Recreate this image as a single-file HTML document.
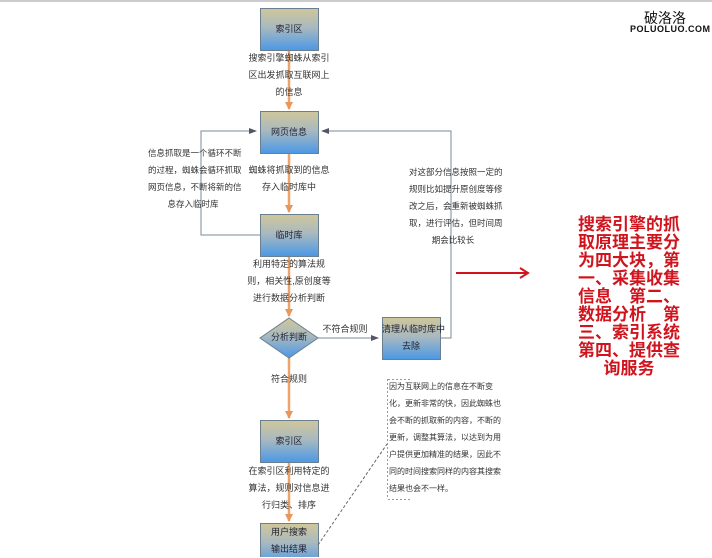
<!DOCTYPE html>
<html><head><meta charset="utf-8"><style>
html,body{margin:0;padding:0;background:#fff;}
body{width:712px;height:557px;overflow:hidden;position:relative;font-family:"Liberation Sans","Noto Sans CJK SC",sans-serif;}
.t{position:absolute;font-size:9px;color:#333;line-height:17px;text-align:center;white-space:nowrap;}
</style></head><body>
<div style="position:absolute;left:0;top:0;width:712px;height:2px;background:#ccc"></div>
<svg width="712" height="557" style="position:absolute;left:0;top:0">
<defs>
<linearGradient id="g" x1="0" y1="0" x2="0" y2="1">
<stop offset="0" stop-color="#cfc79a"/><stop offset="0.45" stop-color="#a9b9bf"/><stop offset="1" stop-color="#4b98e6"/>
</linearGradient>
<marker id="ao" markerWidth="8" markerHeight="8" refX="7" refY="4" orient="auto" markerUnits="userSpaceOnUse"><path d="M0,0 L8,4 L0,8z" fill="#e8965a"/></marker>
<marker id="ag" markerWidth="8" markerHeight="6" refX="7" refY="3" orient="auto" markerUnits="userSpaceOnUse"><path d="M0,0 L8,3 L0,6z" fill="#556"/></marker>
</defs>
<g stroke="#eda36a" stroke-width="2.5" fill="none">
<line x1="289" y1="50" x2="289" y2="109" marker-end="url(#ao)"/>
<line x1="289" y1="153" x2="289" y2="212" marker-end="url(#ao)"/>
<line x1="289" y1="256" x2="289" y2="316" marker-end="url(#ao)"/>
<line x1="289" y1="358" x2="289" y2="418" marker-end="url(#ao)"/>
<line x1="289" y1="462" x2="289" y2="521" marker-end="url(#ao)"/>
</g>
<g stroke="#7a8a99" stroke-width="1" fill="none">
<polyline points="260,235 201,235 201,131 256,131" marker-end="url(#ag)"/>
<polyline points="440,338 451,338 451,131 322,131" marker-end="url(#ag)"/>
<line x1="318" y1="338" x2="378" y2="338" marker-end="url(#ag)"/>
</g>
<g fill="url(#g)" stroke="#6a7f8f" stroke-width="1">
<rect x="260.5" y="8.5" width="58" height="42"/>
<rect x="260.5" y="111.5" width="58" height="42"/>
<rect x="260.5" y="214.5" width="58" height="42"/>
<rect x="382.5" y="317.5" width="58" height="42"/>
<rect x="260.5" y="420.5" width="58" height="42"/>
<rect x="260.5" y="523.5" width="58" height="42"/>
<polygon points="289,318 318,338 289,358 260,338"/>
</g>
<line x1="387.5" y1="379" x2="387.5" y2="499" stroke="#999" stroke-dasharray="2,2"/>
<line x1="388" y1="379.5" x2="410" y2="379.5" stroke="#999" stroke-dasharray="2,2"/>
<line x1="388" y1="499.5" x2="410" y2="499.5" stroke="#999" stroke-dasharray="2,2"/>
<line x1="318" y1="545" x2="387" y2="444" stroke="#666" stroke-dasharray="3,2"/>
<line x1="456" y1="273" x2="526" y2="273" stroke="#d0141e" stroke-width="2"/>
<polyline points="520,268 528,273 520,278" fill="none" stroke="#d0141e" stroke-width="2"/>
</svg>
<div class="t" style="left:260px;top:21px;width:58px;color:#223">索引区</div>
<div class="t" style="left:260px;top:124px;width:58px;color:#223">网页信息</div>
<div class="t" style="left:260px;top:227px;width:58px;color:#223">临时库</div>
<div class="t" style="left:260px;top:329px;width:58px;color:#223">分析判断</div>
<div class="t" style="left:382px;top:321px;width:58px;color:#223">清理从临时库中<br>去除</div>
<div class="t" style="left:260px;top:433px;width:58px;color:#223">索引区</div>
<div class="t" style="left:260px;top:524px;width:58px;color:#223">用户搜索<br>输出结果</div>
<div class="t" style="left:244px;top:50px;width:90px;">搜索引擎蜘蛛从索引<br>区出发抓取互联网上<br>的信息</div>
<div class="t" style="left:244px;top:162px;width:90px;">蜘蛛将抓取到的信息<br>存入临时库中</div>
<div class="t" style="left:244px;top:256px;width:90px;">利用特定的算法规<br>则，相关性,原创度等<br>进行数据分析判断</div>
<div class="t" style="left:320px;top:321px;width:50px;">不符合规则</div>
<div class="t" style="left:260px;top:371px;width:58px;">符合规则</div>
<div class="t" style="left:244px;top:463px;width:90px;">在索引区利用特定的<br>算法，规则对信息进<br>行归类、排序</div>
<div class="t" style="left:148px;top:145px;width:90px;font-size:8.5px;">信息抓取是一个循环不断<br>的过程，蜘蛛会循环抓取<br>网页信息，不断将新的信<br>息存入临时库</div>
<div class="t" style="left:409px;top:164px;width:88px;font-size:8.5px;">对这部分信息按照一定的<br>规则比如提升原创度等修<br>改之后，会重新被蜘蛛抓<br>取，进行评估，但时间周<br>期会比较长</div>
<div class="t" style="left:389px;top:378px;width:110px;text-align:left;font-size:8px;">因为互联网上的信息在不断变<br>化，更新非常的快，因此蜘蛛也<br>会不断的抓取新的内容，不断的<br>更新，调整其算法，以达到为用<br>户提供更加精准的结果，因此不<br>同的时间搜索同样的内容其搜索<br>结果也会不一样。</div>
<div style="position:absolute;left:576px;top:214px;width:106px;color:#d0141e;font-weight:bold;font-size:17px;line-height:18px;font-family:'Noto Sans CJK SC',sans-serif;text-align:center;white-space:nowrap;">搜索引擎的抓<br>取原理主要分<br>为四大块，第<br>一、采集收集<br>信息　第二、<br>数据分析　第<br>三、索引系统<br>第四、提供查<br>询服务</div>
<div style="position:absolute;left:640px;top:8px;width:50px;text-align:center;font-size:14px;color:#111;font-family:'Noto Sans CJK SC',sans-serif;">破洛洛</div>
<div style="position:absolute;left:630px;top:24px;width:74px;text-align:center;font-size:9px;font-weight:bold;color:#111;letter-spacing:0.5px;">POLUOLUO.COM</div>
</body></html>
